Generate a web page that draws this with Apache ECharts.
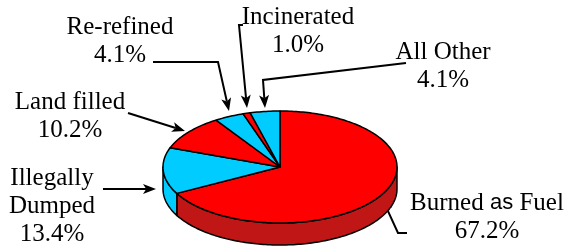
<!DOCTYPE html>
<html><head><meta charset="utf-8">
<script src="https://cdn.jsdelivr.net/npm/echarts@6/dist/echarts.min.js"></script>
<style>html,body{margin:0;padding:0;background:#fff}#c{width:570px;height:249px}</style>
</head><body><div id="c"></div>
<script>
// ---- data ----
const categories = ['Burned as Fuel', 'Illegally Dumped', 'Land filled', 'Re-refined', 'Incinerated', 'All Other'];
const values = [67.2, 13.4, 10.2, 4.1, 1.0, 4.1];

// ---- styles / layout ----
const topColors = ['#FF0000', '#00CCFF', '#FF0000', '#00CCFF', '#FF0000', '#00CCFF'];
const sideColors = ['#C01616', '#00CCFF', '#C01616', '#00CCFF', '#C01616', '#00CCFF'];
const geo = { cx: 280, cy: 167, rx: 117, ry: 56, depth: 22 };
const labelPos = [[487, 203], [52, 178], [70, 102], [120, 27], [298, 17], [443, 52]];
const labelWrap = [false, true, false, false, false, false];
const arrowPaths = [
  [[407, 233], [398, 233], [382, 198]],
  [[103, 189], [156, 189]],
  [[128, 113], [185, 131]],
  [[153, 62], [218, 62], [229, 111]],
  [[243, 25], [239, 25], [247, 108]],
  [[406, 63], [263, 80], [265, 108]]
];
const SERIF = '"Liberation Serif", "Times New Roman", serif';
const SANS = '"Liberation Sans", Arial, sans-serif';

const total = values.reduce((a, b) => a + b, 0);
function pt(t, dy) {
  return [geo.cx + geo.rx * Math.sin(t), geo.cy - geo.ry * Math.cos(t) + dy];
}
function arcPts(a, b, dy) {
  const n = Math.max(2, Math.ceil(Math.abs(b - a) / 0.02));
  const out = [];
  for (let k = 0; k <= n; k++) out.push(pt(a + (b - a) * k / n, dy));
  return out;
}
function renderItem(params, api) {
  const i = params.dataIndex;
  let start = 0;
  for (let k = 0; k < i; k++) start += values[k];
  const v = api.value(0);
  const a0 = start / total * Math.PI * 2;
  const a1 = (start + v) / total * Math.PI * 2;
  const children = [];
  const lo = Math.max(a0, Math.PI / 2), hi = Math.min(a1, Math.PI * 1.5);
  if (hi > lo) {
    const pts = arcPts(lo, hi, 0).concat(arcPts(hi, lo, geo.depth));
    children.push({
      type: 'polygon', shape: { points: pts },
      style: { fill: sideColors[i], stroke: '#000', lineWidth: 1.5, lineJoin: 'round' }
    });
  }
  const top = [[geo.cx, geo.cy]].concat(arcPts(a0, a1, 0));
  children.push({
    type: 'polygon', shape: { points: top },
    style: { fill: topColors[i], stroke: '#000', lineWidth: 1.5, lineJoin: 'round' }
  });
  return { type: 'group', children: children };
}

const graphics = [];
categories.forEach((name, i) => {
  const nm = labelWrap[i] ? name.replace(' ', '\n') : name;
  let txt;
  const rich = {
    s: { fontFamily: SERIF, fontSize: 25, lineHeight: 28, fill: '#000' },
    a: { fontFamily: SANS, fontSize: 22, lineHeight: 28, fill: '#000' }
  };
  if (name.indexOf(' as ') >= 0) {
    const parts = nm.split(' as ');
    txt = '{s|' + parts[0] + ' }{a|as}{s| ' + parts[1] + '}\n{s|' + values[i].toFixed(1) + '%}';
  } else {
    txt = nm.split('\n').map(s => '{s|' + s + '}').join('\n') + '\n{s|' + values[i].toFixed(1) + '%}';
  }
  graphics.push({
    type: 'text', x: labelPos[i][0], y: labelPos[i][1] - 14,
    style: { text: txt, rich: rich, align: 'center', verticalAlign: 'top',
      fontFamily: SERIF, fontSize: 25, fill: '#000', lineHeight: 28 }
  });
  const p = arrowPaths[i];
  const tip = p[p.length - 1], prev = p[p.length - 2];
  const dx = tip[0] - prev[0], dy = tip[1] - prev[1];
  const L = Math.hypot(dx, dy), ux = dx / L, uy = dy / L;
  const len = 13, hw = 5;
  const bx = tip[0] - ux * len, by = tip[1] - uy * len;
  const ix = tip[0] - ux * len * 0.75, iy = tip[1] - uy * len * 0.75;
  const line = p.slice(0, -1).concat([[ix, iy]]);
  graphics.push({
    type: 'polyline', shape: { points: line },
    style: { stroke: '#000', lineWidth: 2, fill: null }
  });
  graphics.push({
    type: 'polygon',
    shape: { points: [tip, [bx - uy * hw, by + ux * hw], [ix, iy], [bx + uy * hw, by - ux * hw]] },
    style: { fill: '#000' }
  });
});

const chart = echarts.init(document.getElementById('c'));
chart.setOption({
  animation: false,
  series: [{
    type: 'custom', coordinateSystem: 'none', renderItem: renderItem,
    data: values.map((v, i) => ({ name: categories[i], value: [v] }))
  }],
  graphic: graphics
});
</script></body></html>
